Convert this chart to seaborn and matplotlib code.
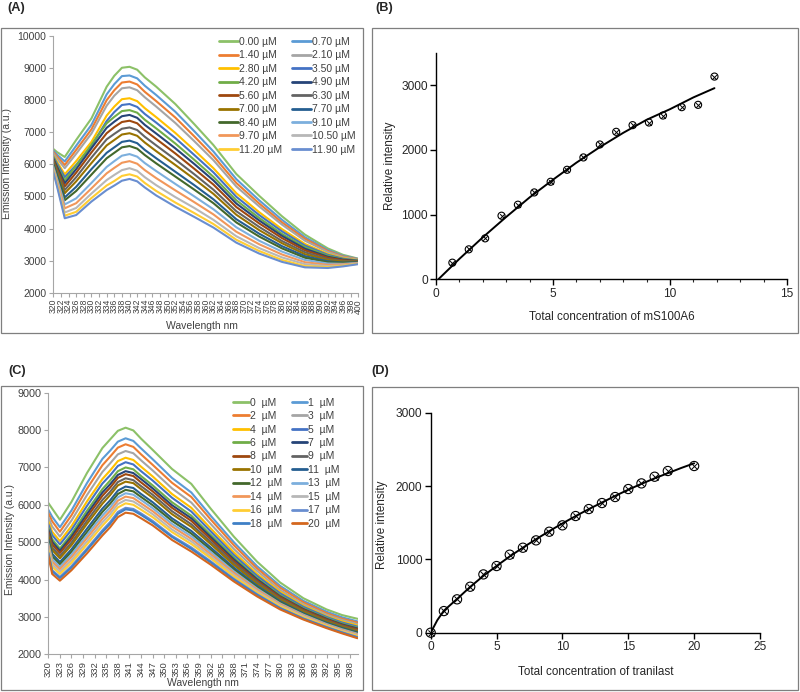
import numpy as np
import pandas as pd
import matplotlib
matplotlib.use("Agg")
import matplotlib.pyplot as plt
from matplotlib.patches import Rectangle
from matplotlib.lines import Line2D
from matplotlib.ticker import MultipleLocator
import seaborn as sns

# --- data ---
wavelengths = [320, 321, 323, 326, 330, 334, 336, 338, 340, 342, 344, 347, 352, 357, 362, 368, 374, 380, 386, 392, 396, 400]

a_labels = ["0.00 µM", "0.70 µM", "1.40 µM", "2.10 µM", "2.80 µM", "3.50 µM", "4.20 µM", "4.90 µM", "5.60 µM",
            "6.30 µM", "7.00 µM", "7.70 µM", "8.40 µM", "9.10 µM", "9.70 µM", "10.50 µM", "11.20 µM", "11.90 µM"]
a_colors = ["#8CC168", "#5B9BD5", "#ED7D31", "#A5A5A5", "#FFC000", "#4472C4", "#70AD47", "#264478", "#9E480E",
            "#636363", "#997300", "#255E91", "#43682B", "#7CAFDD", "#F1975A", "#B7B7B7", "#FFCD33", "#698ED0"]
a_spectra = [
    [6480, 6380, 6230, 6760, 7430, 8420, 8760, 9010, 9040, 8950, 8710, 8420, 7880, 7250, 6600, 5700, 5020, 4380, 3810, 3380, 3180, 3060],
    [6430, 6300, 6090, 6580, 7230, 8180, 8500, 8750, 8770, 8680, 8450, 8160, 7640, 7030, 6400, 5540, 4880, 4270, 3730, 3330, 3150, 3050],
    [6390, 6240, 5980, 6450, 7090, 8000, 8310, 8550, 8580, 8490, 8260, 7970, 7460, 6870, 6260, 5420, 4780, 4190, 3680, 3300, 3130, 3040],
    [6350, 6180, 5880, 6330, 6960, 7830, 8140, 8370, 8400, 8310, 8090, 7800, 7290, 6720, 6130, 5310, 4690, 4120, 3620, 3270, 3110, 3030],
    [6280, 6080, 5690, 6100, 6700, 7520, 7800, 8030, 8060, 7970, 7750, 7470, 6980, 6440, 5880, 5100, 4510, 3980, 3520, 3210, 3080, 3010],
    [6240, 6020, 5600, 5980, 6570, 7350, 7630, 7850, 7880, 7790, 7570, 7300, 6820, 6290, 5750, 4990, 4420, 3910, 3470, 3180, 3060, 3000],
    [6210, 5960, 5500, 5960, 6610, 7280, 7480, 7660, 7690, 7610, 7390, 7120, 6650, 6140, 5610, 4880, 4330, 3830, 3420, 3150, 3040, 3000],
    [6180, 5920, 5410, 5850, 6500, 7140, 7330, 7500, 7540, 7450, 7230, 6960, 6500, 6010, 5500, 4780, 4250, 3770, 3370, 3120, 3030, 2990],
    [6140, 5860, 5310, 5740, 6370, 6970, 7160, 7320, 7360, 7280, 7060, 6790, 6340, 5860, 5370, 4670, 4160, 3700, 3320, 3090, 3010, 2980],
    [6100, 5800, 5200, 5600, 6210, 6780, 6950, 7110, 7150, 7070, 6860, 6590, 6150, 5690, 5210, 4540, 4050, 3610, 3260, 3050, 2990, 2970],
    [6060, 5740, 5100, 5470, 6040, 6590, 6760, 6930, 6970, 6890, 6680, 6410, 5980, 5540, 5080, 4430, 3950, 3540, 3200, 3020, 2970, 2960],
    [6010, 5670, 4970, 5300, 5850, 6360, 6530, 6700, 6740, 6660, 6450, 6190, 5770, 5350, 4910, 4290, 3840, 3450, 3140, 2980, 2940, 2950],
    [5980, 5620, 4880, 5170, 5680, 6190, 6360, 6530, 6570, 6490, 6290, 6030, 5620, 5210, 4790, 4190, 3750, 3380, 3090, 2950, 2930, 2940],
    [5930, 5540, 4750, 4940, 5420, 5920, 6100, 6270, 6320, 6240, 6040, 5790, 5390, 5000, 4600, 4040, 3620, 3280, 3020, 2910, 2900, 2930],
    [5880, 5470, 4630, 4790, 5250, 5720, 5890, 6050, 6100, 6020, 5820, 5570, 5190, 4820, 4440, 3900, 3510, 3190, 2950, 2870, 2880, 2920],
    [5840, 5400, 4500, 4640, 5090, 5510, 5670, 5820, 5880, 5800, 5600, 5350, 4980, 4640, 4270, 3760, 3390, 3100, 2890, 2830, 2850, 2910],
    [5800, 5350, 4400, 4520, 4950, 5340, 5480, 5640, 5690, 5620, 5420, 5170, 4810, 4480, 4140, 3650, 3300, 3020, 2830, 2800, 2840, 2900],
    [5770, 5300, 4320, 4420, 4840, 5200, 5340, 5490, 5545, 5470, 5280, 5030, 4680, 4360, 4030, 3560, 3220, 2960, 2790, 2770, 2820, 2890],
]

c_labels = ["0  µM", "1  µM", "2  µM", "3  µM", "4  µM", "5  µM", "6  µM", "7  µM", "8  µM", "9  µM",
            "10  µM", "11  µM", "12  µM", "13  µM", "14  µM", "15  µM", "16  µM", "17  µM", "18  µM", "20  µM"]
c_colors = a_colors + ["#3F80C6", "#D4671E"]
c_spectra = [
    [6050, 5900, 5600, 6080, 6850, 7520, 7750, 7980, 8064, 7990, 7770, 7470, 6960, 6560, 5900, 5150, 4480, 3920, 3500, 3200, 3050, 2950],
    [5870, 5680, 5400, 5850, 6580, 7230, 7450, 7690, 7780, 7710, 7510, 7220, 6720, 6330, 5710, 5000, 4360, 3830, 3430, 3140, 2990, 2880],
    [5780, 5560, 5280, 5720, 6430, 7060, 7290, 7530, 7620, 7550, 7350, 7070, 6590, 6210, 5610, 4920, 4300, 3780, 3390, 3100, 2950, 2850],
    [5670, 5420, 5150, 5580, 6260, 6880, 7110, 7350, 7440, 7380, 7190, 6920, 6440, 6060, 5490, 4820, 4230, 3720, 3340, 3060, 2920, 2810],
    [5560, 5280, 5030, 5430, 6090, 6690, 6920, 7170, 7260, 7200, 7020, 6760, 6290, 5920, 5370, 4730, 4150, 3670, 3300, 3020, 2880, 2770],
    [5480, 5190, 4940, 5330, 5970, 6570, 6790, 7040, 7140, 7080, 6900, 6650, 6190, 5820, 5290, 4660, 4100, 3630, 3270, 3000, 2850, 2740],
    [5390, 5080, 4830, 5220, 5840, 6420, 6650, 6900, 7000, 6950, 6770, 6520, 6070, 5710, 5200, 4590, 4040, 3580, 3230, 2970, 2820, 2710],
    [5340, 5010, 4770, 5150, 5750, 6330, 6550, 6800, 6900, 6850, 6690, 6440, 5990, 5640, 5140, 4540, 4010, 3550, 3210, 2950, 2800, 2690],
    [5280, 4940, 4710, 5080, 5670, 6240, 6460, 6720, 6820, 6770, 6600, 6360, 5920, 5570, 5080, 4490, 3970, 3530, 3190, 2930, 2780, 2670],
    [5220, 4860, 4630, 4990, 5570, 6130, 6350, 6610, 6710, 6660, 6500, 6270, 5830, 5480, 5010, 4440, 3930, 3490, 3160, 2900, 2760, 2640],
    [5160, 4790, 4570, 4920, 5490, 6030, 6260, 6520, 6620, 6580, 6420, 6190, 5750, 5410, 4950, 4390, 3890, 3460, 3140, 2880, 2740, 2620],
    [5080, 4690, 4470, 4810, 5360, 5900, 6120, 6380, 6490, 6450, 6290, 6070, 5640, 5300, 4860, 4320, 3840, 3420, 3100, 2850, 2710, 2590],
    [5020, 4620, 4410, 4740, 5270, 5810, 6030, 6290, 6400, 6360, 6210, 5990, 5570, 5230, 4800, 4270, 3800, 3390, 3080, 2830, 2690, 2570],
    [4970, 4550, 4340, 4670, 5190, 5710, 5930, 6200, 6310, 6270, 6130, 5910, 5490, 5160, 4740, 4220, 3760, 3360, 3060, 2810, 2670, 2550],
    [4920, 4480, 4280, 4600, 5110, 5620, 5840, 6110, 6220, 6180, 6040, 5830, 5420, 5090, 4680, 4180, 3730, 3340, 3040, 2790, 2650, 2530],
    [4860, 4410, 4210, 4520, 5020, 5530, 5750, 6020, 6130, 6090, 5960, 5750, 5340, 5020, 4620, 4130, 3690, 3310, 3020, 2770, 2630, 2510],
    [4800, 4340, 4150, 4450, 4940, 5440, 5660, 5930, 6040, 6000, 5870, 5670, 5270, 4950, 4570, 4080, 3650, 3280, 2990, 2760, 2610, 2490],
    [4730, 4250, 4070, 4360, 4830, 5320, 5540, 5810, 5920, 5890, 5770, 5570, 5170, 4860, 4490, 4020, 3610, 3240, 2960, 2730, 2590, 2460],
    [4710, 4220, 4040, 4320, 4790, 5270, 5490, 5760, 5880, 5850, 5730, 5530, 5140, 4820, 4460, 4000, 3590, 3230, 2950, 2720, 2580, 2450],
    [4650, 4150, 3970, 4250, 4700, 5180, 5400, 5670, 5790, 5760, 5640, 5450, 5060, 4750, 4400, 3950, 3550, 3200, 2930, 2700, 2560, 2430],
]

# titration points (B: mS100A6, D: tranilast)
b_conc = [0.7, 1.4, 2.1, 2.8, 3.5, 4.2, 4.9, 5.6, 6.3, 7.0, 7.7, 8.4, 9.1, 9.7, 10.5, 11.2, 11.9]
b_signal = [257, 463, 633, 983, 1153, 1343, 1508, 1693, 1884, 2084, 2280, 2383, 2424, 2532, 2661, 2697, 3134]
b_fit_x = [0.1, 1, 2, 3, 4, 5, 6, 7, 8, 9, 10, 11, 11.9]
b_fit_y = [0, 316, 649, 964, 1266, 1540, 1803, 2043, 2264, 2466, 2630, 2812, 2955]

d_conc = [0, 1, 2, 3, 4, 5, 6, 7, 8, 9, 10, 11, 12, 13, 14, 15, 16, 17, 18, 20]
d_signal = [0, 295, 455, 627, 795, 909, 1064, 1159, 1259, 1377, 1464, 1591, 1686, 1768, 1850, 1959, 2036, 2127, 2205, 2273]
d_fit_x = [0, 0.5, 1, 2, 3, 4, 5, 6, 7, 8, 9, 10, 11, 12, 13, 14, 15, 16, 17, 18, 19, 20]
d_fit_y = [0, 170, 300, 460, 625, 775, 910, 1040, 1160, 1275, 1385, 1490, 1590, 1685, 1775, 1865, 1950, 2030,
           2105, 2175, 2245, 2310]

sns.set_style("white")
plt.rcParams['font.family'] = ['Liberation Sans', 'DejaVu Sans']

W, H = 800, 692
fig = plt.figure(figsize=(W / 100, H / 100), dpi=100)


def px_box(x0, y0, x1, y1):
    return [x0 / W, 1 - y1 / H, (x1 - x0) / W, (y1 - y0) / H]


def spectra_panel(ax, labels, colors, spectra, ylim, yticks, xticks, fs, leg_anchor, handlen):
    rows = []
    for lab, vals in zip(labels, spectra):
        for wl, v in zip(wavelengths, vals):
            rows.append({'wavelength': wl, 'intensity': v, 'conc': lab})
    df = pd.DataFrame(rows)
    sns.lineplot(data=df, x='wavelength', y='intensity', hue='conc', hue_order=labels, palette=colors,
                 lw=1.5, legend=False, sort=False, estimator=None, ax=ax)
    ax.set_xlim(320, 400)
    ax.set_ylim(*ylim)
    ax.set_yticks(yticks)
    ax.set_xticks(xticks)
    ax.set_xticklabels([str(t) for t in xticks], rotation=90)
    for s in ['top', 'right']:
        ax.spines[s].set_visible(False)
    for s in ['left', 'bottom']:
        ax.spines[s].set_color('#A6A6A6')
        ax.spines[s].set_linewidth(0.8)
    ax.tick_params(axis='both', which='major', direction='out', length=3, width=0.8, color='#A6A6A6',
                   labelcolor='#404040', labelsize=fs, pad=2, left=True, bottom=True)
    order = list(range(0, len(labels), 2)) + list(range(1, len(labels), 2))
    handles = [Line2D([], [], color=colors[i], lw=2) for i in order]
    ax.legend(handles, [labels[i] for i in order], ncol=2, loc='upper left', bbox_to_anchor=leg_anchor,
              frameon=False, fontsize=7.5, handlelength=handlen, handletextpad=0.1, columnspacing=0.9,
              labelspacing=0.33, borderpad=0.1, borderaxespad=0, labelcolor='#404040')


# --- panel A ---
ax_a = fig.add_axes(px_box(53.3, 36, 358.3, 292.7))
spectra_panel(ax_a, a_labels, a_colors, a_spectra, (2000, 10000), range(2000, 10001, 1000),
              list(range(320, 401, 2)), 7.5, (0.54, 1.0), 1.85)
ax_a.tick_params(axis='x', labelsize=6.2, pad=1.5)
ax_a.set_ylabel('Emission Intensity (a.u.)', fontsize=7.5, color='#404040', va='center')
ax_a.set_xlabel('Wavelength nm', fontsize=7.5, color='#404040', va='center')
ax_a.yaxis.set_label_coords(-0.151, 0.505)
ax_a.xaxis.set_label_coords(0.488, -0.128)

# --- panel C ---
ax_c = fig.add_axes(px_box(48.3, 392.7, 357.5, 654.3))
spectra_panel(ax_c, c_labels, c_colors, c_spectra, (2000, 9000), range(2000, 9001, 1000),
              list(range(320, 399, 3)), 7.8, (0.595, 0.985), 1.5)
ax_c.tick_params(axis='x', labelsize=6.8)
ax_c.set_ylabel('Emission Intensity (a.u.)', fontsize=7.5, color='#404040', va='center')
ax_c.set_xlabel('Wavelength nm', fontsize=7.5, color='#404040', va='center')
ax_c.yaxis.set_label_coords(-0.124, 0.437)
ax_c.xaxis.set_label_coords(0.501, -0.110)


def binding_panel(ax, conc, signal, fit_x, fit_y, msize, xlim, xticks, ylim, xlabel):
    sns.lineplot(x=fit_x, y=fit_y, color='black', lw=1.4, sort=False, estimator=None, ax=ax)
    sns.scatterplot(x=conc, y=signal, marker='o', s=msize, color='none', edgecolor='black', linewidth=0.8,
                    clip_on=False, zorder=3, ax=ax)
    sns.scatterplot(x=conc, y=signal, marker='x', s=msize * 0.45, color='black', linewidth=0.7,
                    clip_on=False, zorder=3, ax=ax)
    ax.set_xlim(*xlim)
    ax.set_ylim(*ylim)
    ax.set_xticks(xticks)
    ax.set_yticks([0, 1000, 2000, 3000])
    for s in ['top', 'right']:
        ax.spines[s].set_visible(False)
    for s in ['left', 'bottom']:
        ax.spines[s].set_color('black')
        ax.spines[s].set_linewidth(1.0)
    ax.tick_params(axis='both', which='major', direction='out', length=4, width=1.0, color='black',
                   labelsize=8.6, pad=2, left=True, bottom=True)
    ax.set_ylabel('Relative intensity', fontsize=8.4, va='center')
    ax.set_xlabel(xlabel, fontsize=8.4, va='center')


# --- panel B ---
ax_b = fig.add_axes(px_box(436, 52.9, 787, 279.3))
binding_panel(ax_b, b_conc, b_signal, b_fit_x, b_fit_y, 26, (0, 15), [0, 5, 10, 15], (0, 3500),
              'Total concentration of mS100A6')
ax_b.xaxis.set_minor_locator(MultipleLocator(1))
ax_b.tick_params(axis='x', which='minor', direction='out', length=2.5, width=0.8, bottom=True)
ax_b.yaxis.set_label_coords(-0.131, 0.5)
ax_b.xaxis.set_label_coords(0.5, -0.167)

# --- panel D ---
ax_d = fig.add_axes(px_box(430.7, 412.7, 760, 632.7))
binding_panel(ax_d, d_conc, d_signal, d_fit_x, d_fit_y, 44, (0, 25), [0, 5, 10, 15, 20, 25], (0, 3000),
              'Total concentration of tranilast')
ax_d.yaxis.set_label_coords(-0.148, 0.49)
ax_d.xaxis.set_label_coords(0.501, -0.177)

# panel frames and tags
for (x0, y0, x1, y1) in [(1, 28.3, 362.7, 332.7), (371.7, 28.3, 798, 332.7),
                         (1, 385.7, 362.7, 690), (371.7, 386.7, 798, 690)]:
    fig.add_artist(Rectangle((x0 / W, 1 - y1 / H), (x1 - x0) / W, (y1 - y0) / H, transform=fig.transFigure,
                             fill=False, edgecolor='#7F7F7F', lw=0.9))
for tag, x, y in [('(A)', 16, 8), ('(B)', 384, 8), ('(C)', 17, 371), ('(D)', 380, 371)]:
    fig.text(x / W, 1 - y / H, tag, fontsize=9.2, fontweight='bold', ha='center', va='center')

fig.savefig('out.png', dpi=100)
